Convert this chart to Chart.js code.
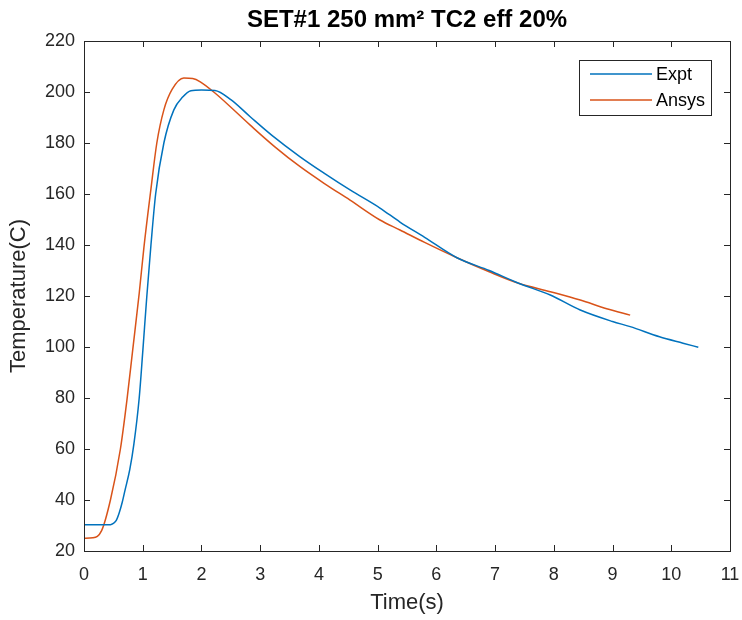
<!DOCTYPE html>
<html>
<head>
<meta charset="utf-8">
<script src="https://cdn.jsdelivr.net/npm/chart.js@4/dist/chart.umd.min.js"></script>
<style>
  html, body { margin: 0; padding: 0; background: #fff; }
  #wrap { width: 742px; height: 620px; }
</style>
</head>
<body>
<div id="wrap"><canvas id="chart" width="742" height="620"></canvas></div>
<script>
// Expt series (time in s, temperature in C)
const exptTime = [0, 0.45, 0.5, 0.55, 0.6, 0.65, 0.7, 0.78, 0.85, 0.94, 1.0, 1.07, 1.14, 1.22, 1.36, 1.53, 1.68, 1.82, 2.0, 2.23, 2.5, 2.83, 3.2, 3.68, 4.1, 4.53, 5.04, 5.38, 5.8, 6.35, 6.9, 7.4, 7.94, 8.45, 9.0, 9.3, 9.8, 10.2, 10.46];
const exptTemp = [30.3, 30.3, 30.8, 32, 35, 39, 44, 52, 62, 80, 98, 120, 140, 160, 180, 193, 198, 200.5, 200.8, 200.6, 197, 190.3, 183, 174.6, 168, 161.6, 154.5, 149, 143, 135, 130, 125, 120.4, 114.5, 110, 108, 104, 101.5, 99.9];

// Ansys series
const ansysTime = [0, 0.15, 0.3, 0.45, 0.62, 0.73, 0.83, 0.94, 1.02, 1.14, 1.24, 1.36, 1.5, 1.7, 1.85, 1.98, 2.23, 2.83, 3.25, 3.68, 4.1, 4.53, 5.04, 5.38, 5.8, 6.35, 6.9, 7.4, 7.94, 8.45, 8.9, 9.3];
const ansysTemp = [25, 25.2, 28, 40, 60, 79, 99, 121, 139, 162, 180, 193, 201, 205.5, 205.3, 204, 199.6, 187, 178.5, 170.7, 164, 157.6, 149.8, 145.9, 141, 135, 129.5, 125, 121.7, 118.4, 115, 112.5];

const seriesLabels = ['Expt', 'Ansys'];
const seriesColors = ['#0072BD', '#D95319'];

const xTicks = [0, 1, 2, 3, 4, 5, 6, 7, 8, 9, 10, 11];
const yTicks = [20, 40, 60, 80, 100, 120, 140, 160, 180, 200, 220];

const chartTitle = 'SET#1 250 mm² TC2 eff 20%';

const FONT = '"Liberation Sans", Arial, sans-serif';
const TEXT = '#262626';

function toPoints(xs, ys) {
  return xs.map((x, i) => ({ x: x, y: ys[i] }));
}

// MATLAB-like box with inward ticks, title over the axes and legend box
const matlabBox = {
  id: 'matlabBox',
  afterDraw(chart) {
    const ctx = chart.ctx;
    const a = chart.chartArea;
    const xs = chart.scales.x;
    const ys = chart.scales.y;
    ctx.save();
    ctx.strokeStyle = TEXT;
    ctx.lineWidth = 1;
    ctx.strokeRect(Math.round(a.left) + 0.5, Math.round(a.top) + 0.5, Math.round(a.right - a.left), Math.round(a.bottom - a.top));
    ctx.beginPath();
    xTicks.forEach(v => {
      const px = Math.round(xs.getPixelForValue(v)) + 0.5;
      ctx.moveTo(px, a.bottom); ctx.lineTo(px, a.bottom - 6);
      ctx.moveTo(px, a.top); ctx.lineTo(px, a.top + 6);
    });
    yTicks.forEach(v => {
      const py = Math.round(ys.getPixelForValue(v)) + 0.5;
      ctx.moveTo(a.left, py); ctx.lineTo(a.left + 6, py);
      ctx.moveTo(a.right, py); ctx.lineTo(a.right - 6, py);
    });
    ctx.stroke();

    // title centred on the axes
    ctx.fillStyle = '#000';
    ctx.font = 'bold 24px ' + FONT;
    ctx.textAlign = 'center';
    ctx.textBaseline = 'alphabetic';
    ctx.fillText(chartTitle, (a.left + a.right) / 2, 27);

    // legend
    const lx = 579, ly = 60, lw = 132, lh = 55;
    ctx.fillStyle = '#fff';
    ctx.fillRect(lx, ly, lw, lh);
    ctx.strokeStyle = TEXT;
    ctx.strokeRect(lx + 0.5, ly + 0.5, lw, lh);
    ctx.font = '18px ' + FONT;
    ctx.textAlign = 'left';
    ctx.textBaseline = 'middle';
    chart.data.datasets.forEach((ds, i) => {
      const y = ly + 14 + i * 26;
      ctx.strokeStyle = ds.borderColor;
      ctx.lineWidth = 1.5;
      ctx.beginPath();
      ctx.moveTo(590, y); ctx.lineTo(652, y);
      ctx.stroke();
      ctx.fillStyle = '#000';
      ctx.fillText(ds.label, 656, y + 1);
    });
    ctx.restore();
  }
};

new Chart(document.getElementById('chart'), {
  type: 'scatter',
  data: {
    datasets: [
      { label: seriesLabels[0], data: toPoints(exptTime, exptTemp), borderColor: seriesColors[0], backgroundColor: seriesColors[0], showLine: true, pointRadius: 0, borderWidth: 1.5, cubicInterpolationMode: 'monotone' },
      { label: seriesLabels[1], data: toPoints(ansysTime, ansysTemp), borderColor: seriesColors[1], backgroundColor: seriesColors[1], showLine: true, pointRadius: 0, borderWidth: 1.5, cubicInterpolationMode: 'monotone' }
    ]
  },
  options: {
    responsive: false,
    animation: false,
    layout: { padding: { left: 0, right: 12, top: 41, bottom: 0 } },
    plugins: {
      legend: { display: false },
      tooltip: { enabled: false },
      title: { display: false }
    },
    scales: {
      x: {
        type: 'linear',
        min: 0, max: 11,
        afterBuildTicks: s => { s.ticks = xTicks.map(v => ({ value: v })); },
        afterFit: s => { s.height = 69; s.paddingRight = 0; s.paddingLeft = 0; },
        grid: { display: false, drawTicks: false },
        border: { display: false },
        ticks: { color: TEXT, font: { family: FONT, size: 18 }, padding: 13 },
        title: { display: true, text: 'Time(s)', color: TEXT, font: { family: FONT, size: 22 }, padding: { top: 0 } }
      },
      y: {
        type: 'linear',
        min: 20, max: 220,
        afterBuildTicks: s => { s.ticks = yTicks.map(v => ({ value: v })); },
        afterFit: s => { s.width = 84; s.paddingTop = 0; s.paddingBottom = 0; },
        grid: { display: false, drawTicks: false },
        border: { display: false },
        ticks: { color: TEXT, font: { family: FONT, size: 18 }, padding: 9 },
        title: { display: true, text: 'Temperature(C)', color: TEXT, font: { family: FONT, size: 22 }, padding: { top: 6, bottom: 0 } }
      }
    }
  },
  plugins: [matlabBox]
});
</script>
</body>
</html>
